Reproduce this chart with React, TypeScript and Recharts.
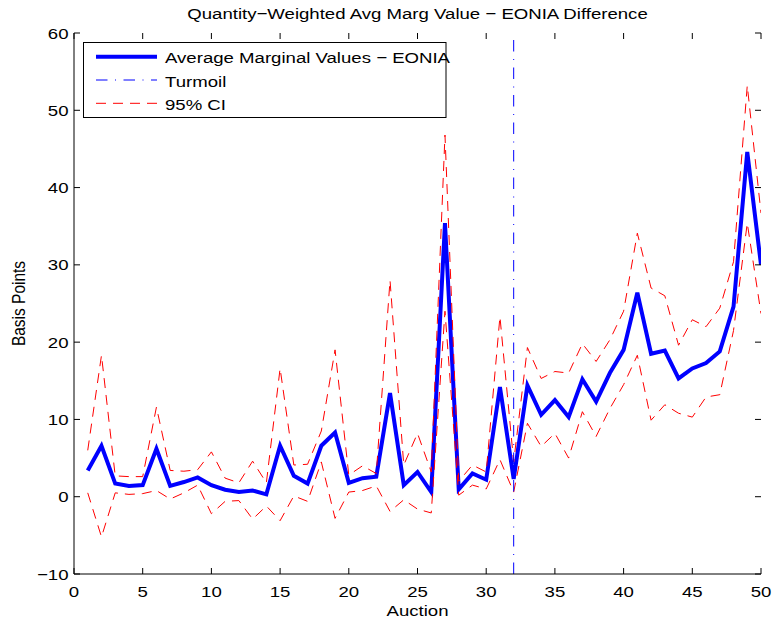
import React from 'react';
import { LineChart, Line, XAxis, YAxis, ReferenceLine, Legend, Label } from 'recharts';

const auctions = [
  1, 2, 3, 4, 5, 6, 7, 8, 9, 10,
  11, 12, 13, 14, 15, 16, 17, 18, 19, 20,
  21, 22, 23, 24, 25, 26, 27, 28, 29, 30,
  31, 32, 33, 34, 35, 36, 37, 38, 39, 40,
  41, 42, 43, 44, 45, 46, 47, 48, 49, 50,
];
const avgMarginalValues = [
  3.4, 6.6, 1.7, 1.4, 1.5, 6.2, 1.4, 1.9, 2.5, 1.5,
  0.9, 0.6, 0.8, 0.3, 6.6, 2.7, 1.7, 6.6, 8.3, 1.8,
  2.4, 2.6, 13.4, 1.5, 3.2, 0.6, 35.4, 0.95, 3.0, 2.2,
  14.2, 2.3, 14.4, 10.6, 12.5, 10.3, 15.2, 12.3, 16.0, 19.0,
  26.4, 18.5, 18.9, 15.3, 16.6, 17.3, 18.8, 24.6, 44.6, 30.0,
];
const upperCI = [
  6.0, 18.3, 2.7, 2.6, 2.6, 11.6, 3.4, 3.3, 3.5, 5.8,
  2.4, 1.8, 4.6, 1.8, 16.6, 4.1, 4.2, 8.5, 19.0, 2.8,
  4.0, 3.0, 28.0, 4.1, 8.2, 3.2, 46.8, 2.0, 4.1, 3.2,
  23.3, 4.5, 19.3, 15.3, 16.2, 16.0, 19.8, 17.5, 20.3, 24.0,
  34.1, 27.0, 26.0, 19.6, 22.9, 22.0, 24.4, 30.4, 53.2, 36.7,
];
const lowerCI = [
  0.5, -5.2, 0.5, 0.3, 0.4, 0.8, -0.3, 0.5, 1.5, -2.2,
  -0.6, -0.5, -2.9, -1.2, -3.1, 0.1, -0.6, 4.5, -2.8, 0.6,
  0.8, 1.4, -1.9, -0.4, -1.6, -2.1, 24.0, 0.2, 1.5, 1.0,
  4.8, 0.6, 9.5, 6.5, 8.2, 5.0, 11.0, 7.8, 11.4, 14.5,
  18.3, 9.9, 11.9, 10.8, 10.3, 12.9, 13.2, 21.5, 35.4, 23.7,
];
const turmoilAuction = 32;
const xTicks = [0, 5, 10, 15, 20, 25, 30, 35, 40, 45, 50];
const yTicks = [-10, 0, 10, 20, 30, 40, 50, 60];
const titleText = 'Quantity\u2212Weighted Avg Marg Value \u2212 EONIA Difference';
const xLabelText = 'Auction';
const yLabelText = 'Basis Points';
const legendLabels = ['Average Marginal Values \u2212 EONIA', 'Turmoil', '95% CI'];

const FONT = '"Liberation Sans", Arial, Helvetica, sans-serif';
const FS = 15.5;
const SX = 1.2;
const BLUE = '#0000ff';
const RED = '#ff0000';
const TURMOIL_DASH = '11.5 7.5 1 7.5';
const CI_DASH = '10 7';

// plot frame (layout)
const W = 774;
const H = 625;
const PLOT_LEFT = 74;
const PLOT_RIGHT = 761;
const PLOT_TOP = 33;
const PLOT_BOTTOM = 574;
const TICK_LEN = 6;

const data = auctions.map((a, i) => ({
  auction: a,
  avg: avgMarginalValues[i],
  upper: upperCI[i],
  lower: lowerCI[i],
}));

const fmt = (v: number) => (v < 0 ? '\u2212' + Math.abs(v) : String(v));

function SText(props: any) {
  const { x, y, anchor = 'middle', dy, rotate = false, children } = props;
  const t = rotate
    ? `translate(${x} ${y}) scale(${SX} 1) rotate(-90)`
    : `translate(${x} ${y}) scale(${SX} 1)`;
  return (
    <text transform={t} x={0} y={0} dy={dy} textAnchor={anchor} fontFamily={FONT} fontSize={FS} fill="#000">
      {children}
    </text>
  );
}

const BottomTick = (props: any) => {
  const c = props.payload.coordinate;
  return (
    <g>
      <line x1={c} x2={c} y1={PLOT_BOTTOM} y2={PLOT_BOTTOM - TICK_LEN} stroke="#000" strokeWidth={1} />
      <line x1={c} x2={c} y1={PLOT_TOP} y2={PLOT_TOP + TICK_LEN} stroke="#000" strokeWidth={1} />
      <SText x={props.x} y={props.y} dy="0.71em">{fmt(props.payload.value)}</SText>
    </g>
  );
};
const LeftTick = (props: any) => {
  const c = props.payload.coordinate;
  return (
    <g>
      <line x1={PLOT_LEFT} x2={PLOT_LEFT + TICK_LEN} y1={c} y2={c} stroke="#000" strokeWidth={1} />
      <line x1={PLOT_RIGHT} x2={PLOT_RIGHT - TICK_LEN} y1={c} y2={c} stroke="#000" strokeWidth={1} />
      <SText x={props.x} y={props.y} anchor="end" dy="0.355em">{fmt(props.payload.value)}</SText>
    </g>
  );
};

const XLabel = (props: any) => {
  const vb = props.viewBox || { x: 0, y: 0, width: 0 };
  return <SText x={vb.x + vb.width / 2} y={vb.y + 42}>{xLabelText}</SText>;
};
const YLabel = (props: any) => {
  const vb = props.viewBox || { x: 0, y: 0, height: 0 };
  return <SText x={24.5} y={vb.y + vb.height / 2} rotate>{yLabelText}</SText>;
};

const LegendBox = () => (
  <svg width={380} height={76} style={{ display: 'block', overflow: 'visible' }}>
    <rect x={0.5} y={0.5} width={362.5} height={75} fill="#fff" stroke="#000" strokeWidth={1} />
    <line x1={13} x2={74} y1={14.7} y2={14.7} stroke={BLUE} strokeWidth={4} />
    <SText x={82} y={21.3} anchor="start">{legendLabels[0]}</SText>
    <line x1={13} x2={74} y1={38} y2={38} stroke={BLUE} strokeWidth={1} strokeDasharray={TURMOIL_DASH} />
    <SText x={82} y={44.6} anchor="start">{legendLabels[1]}</SText>
    <line x1={13} x2={74} y1={61.3} y2={61.3} stroke={RED} strokeWidth={1} strokeDasharray={CI_DASH} />
    <SText x={82} y={68} anchor="start">{legendLabels[2]}</SText>
  </svg>
);

export default function App() {
  return (
    <div style={{ position: 'absolute', left: 0, top: 0, width: W, height: H, background: '#fff' }}>
      <LineChart
        width={W}
        height={H}
        data={data}
        margin={{ top: PLOT_TOP, right: W - PLOT_RIGHT, bottom: 0, left: 0 }}
      >
        <XAxis
          xAxisId="b"
          dataKey="auction"
          type="number"
          domain={[0, 50]}
          ticks={xTicks}
          interval={0}
          orientation="bottom"
          height={H - PLOT_BOTTOM}
          tickSize={0}
          tickMargin={11.5}
          axisLine={{ stroke: '#000', strokeWidth: 1 }}
          tickLine={false}
          tick={<BottomTick />}
          allowDataOverflow
        >
          <Label content={<XLabel />} />
        </XAxis>
        <XAxis
          xAxisId="t"
          dataKey="auction"
          type="number"
          domain={[0, 50]}
          orientation="top"
          height={0}
          axisLine={{ stroke: '#000', strokeWidth: 1 }}
          tickLine={false}
          tick={false}
          allowDataOverflow
        />
        <YAxis
          yAxisId="l"
          type="number"
          domain={[-10, 60]}
          ticks={yTicks}
          interval={0}
          orientation="left"
          width={PLOT_LEFT}
          tickSize={0}
          tickMargin={5.5}
          axisLine={{ stroke: '#000', strokeWidth: 1 }}
          tickLine={false}
          tick={<LeftTick />}
          allowDataOverflow
        >
          <Label content={<YLabel />} />
        </YAxis>
        <YAxis
          yAxisId="r"
          type="number"
          domain={[-10, 60]}
          orientation="right"
          width={0}
          axisLine={{ stroke: '#000', strokeWidth: 1 }}
          tickLine={false}
          tick={false}
          allowDataOverflow
        />
        <Line
          xAxisId="b"
          yAxisId="l"
          type="linear"
          dataKey="avg"
          stroke={BLUE}
          strokeWidth={4}
          dot={false}
          activeDot={false}
          isAnimationActive={false}
        />
        <Line
          xAxisId="b"
          yAxisId="l"
          type="linear"
          dataKey="upper"
          stroke={RED}
          strokeWidth={1}
          strokeDasharray={CI_DASH}
          dot={false}
          activeDot={false}
          isAnimationActive={false}
        />
        <Line
          xAxisId="b"
          yAxisId="l"
          type="linear"
          dataKey="lower"
          stroke={RED}
          strokeWidth={1}
          strokeDasharray={CI_DASH}
          dot={false}
          activeDot={false}
          isAnimationActive={false}
        />
        <ReferenceLine
          xAxisId="b"
          yAxisId="l"
          x={turmoilAuction}
          stroke={BLUE}
          strokeWidth={1}
          strokeDasharray={TURMOIL_DASH}
        />
        <Legend
          layout="horizontal"
          verticalAlign="middle"
          align="center"
          content={<LegendBox />}
          wrapperStyle={{ left: 83, top: 42, width: 380, height: 76, margin: 0, padding: 0 }}
        />
      </LineChart>
      <svg
        width={W}
        height={PLOT_TOP}
        style={{ position: 'absolute', left: 0, top: 0, pointerEvents: 'none' }}
      >
        <SText x={(PLOT_LEFT + PLOT_RIGHT) / 2} y={19.3}>{titleText}</SText>
      </svg>
    </div>
  );
}
